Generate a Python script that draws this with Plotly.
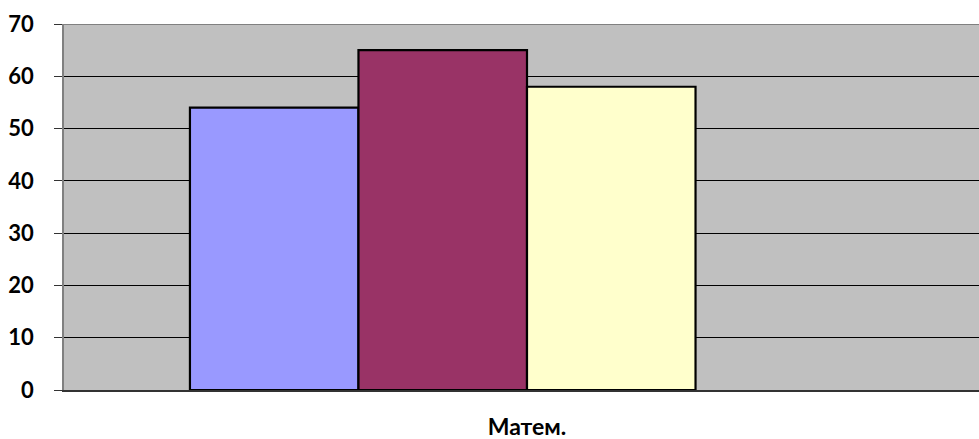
import plotly.graph_objects as go

categories = ["Матем."]
series_names = ["Ряд 1", "Ряд 2", "Ряд 3", "Ряд 4"]
series_values = [[54], [65], [58], [None]]
series_colors = ["#9999FF", "#993366", "#FFFFCC", "#CCFFFF"]
y_ticks = [0, 10, 20, 30, 40, 50, 60, 70]

fig = go.Figure()
for name, vals, col in zip(series_names, series_values, series_colors):
    fig.add_trace(go.Bar(
        x=categories, y=vals, name=name,
        marker=dict(color=col, line=dict(color="#000000", width=2.2)),
    ))

FONT = "Lato, 'Open Sans', sans-serif"
fig.update_layout(
    width=979, height=439,
    margin=dict(l=64, r=0, t=24, b=49),
    paper_bgcolor="#FFFFFF",
    plot_bgcolor="#C0C0C0",
    barmode="group",
    bargap=0.272,
    bargroupgap=0,
    showlegend=False,
    font=dict(family=FONT, size=22, color="#000000"),
    xaxis=dict(
        type="category",
        range=[-0.5, -0.5 + 915 / 926],
        automargin=False,
        showgrid=False,
        showline=True, linecolor="#333333", linewidth=1.5,
        mirror=False,
        ticks="", ticklabelstandoff=16,
        tickfont=dict(family=FONT, size=23, color="#000000", weight="bold"),
    ),
    yaxis=dict(
        range=[0, 70],
        tickvals=y_ticks,
        automargin=False,
        showgrid=True, gridcolor="#000000", gridwidth=1,
        zeroline=False,
        showline=True, linecolor="#808080", linewidth=1.5,
        ticks="outside", ticklen=8, tickcolor="#333333", tickwidth=1,
        ticklabelstandoff=16,
        tickfont=dict(family=FONT, size=22, color="#000000", weight="bold"),
    ),
)
# gray top border of plot area
fig.add_shape(type="line", xref="paper", yref="y", x0=0, x1=1, y0=70, y1=70,
              line=dict(color="#808080", width=2), layer="above")

fig.write_html("out.html", config={"displayModeBar": False},
               post_script="document.body.style.margin='0px';")
